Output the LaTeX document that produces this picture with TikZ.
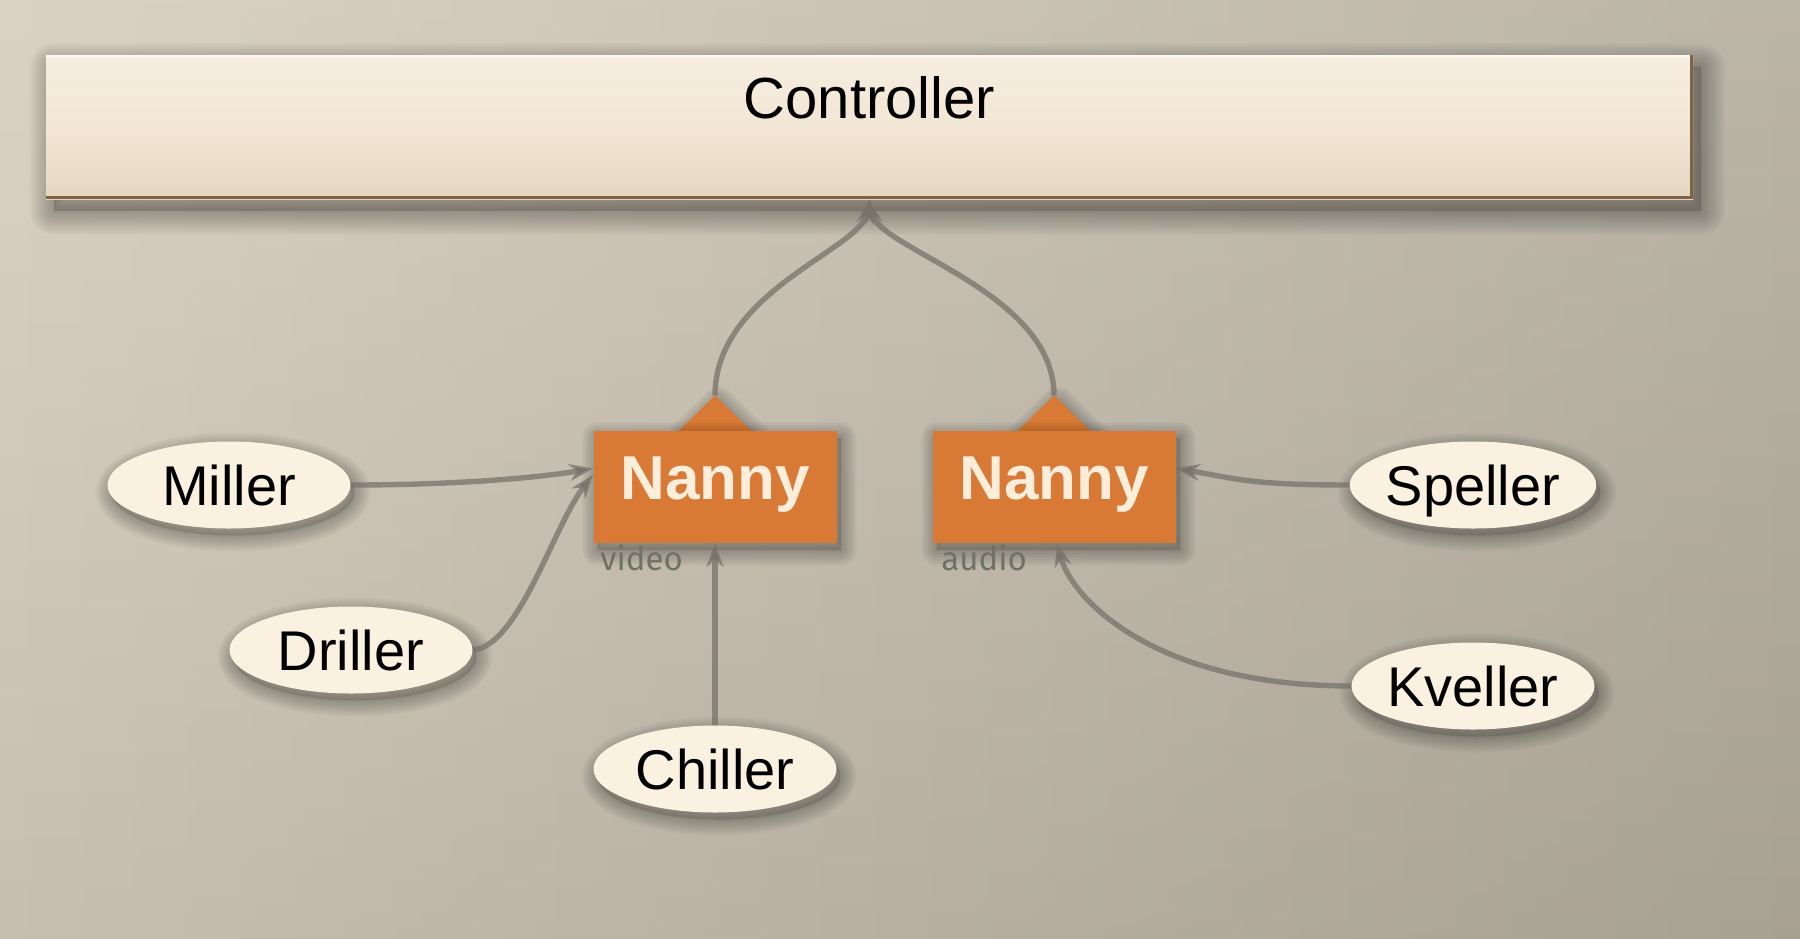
\documentclass[tikz,border=0pt]{standalone}
\usepackage{fontspec}
\setmainfont{Liberation Sans}
\newfontfamily\notefont{Fira Sans}
\usetikzlibrary{shapes.geometric,arrows.meta}
\definecolor{bgL}{HTML}{D8CFBF}
\definecolor{bgR}{HTML}{B6AFA1}
\definecolor{boxtop}{HTML}{F7EEE1}
\definecolor{boxmid}{HTML}{F2E6D4}
\definecolor{boxbot}{HTML}{E4D6C1}
\definecolor{boxedge}{HTML}{7F6343}
\definecolor{cream}{HTML}{FBF1E1}
\definecolor{nannyorange}{HTML}{D87A36}
\definecolor{nannytext}{HTML}{FCEEDB}
\definecolor{wire}{HTML}{77726A}
\definecolor{notegray}{HTML}{6E7264}
\tikzset{
  shfill/.style={preaction={fill=black, fill opacity=#1, transform canvas={xshift=2pt,yshift=-3.5pt}}},
  shstep/.style={preaction={draw=black, line width=#1, line join=round, draw opacity=0.022, transform canvas={xshift=2pt,yshift=-3.5pt}}},
  bigfill/.style={preaction={fill=black, fill opacity=#1, transform canvas={xshift=4pt,yshift=-6pt}}},
  bigstep/.style={preaction={draw=black, line width=#1, line join=round, draw opacity=0.022, transform canvas={xshift=4pt,yshift=-6pt}}},
  softshadow/.style={shfill=0.12, shstep=16pt, shstep=14.5pt, shstep=13pt, shstep=11.5pt, shstep=10pt,
    shstep=8.5pt, shstep=7pt, shstep=5.5pt, shstep=4pt, shstep=2.5pt, shstep=1pt},
  bigshadow/.style={bigfill=0.15, bigstep=24pt, bigstep=22pt, bigstep=20pt, bigstep=18pt, bigstep=16pt,
    bigstep=14pt, bigstep=12pt, bigstep=10pt, bigstep=8pt, bigstep=6pt, bigstep=4pt, bigstep=2pt},
  ctrlbox/.style={rectangle, inner sep=0pt, minimum width=823.5pt, minimum height=72pt,
    bigshadow, top color=boxtop, bottom color=boxbot, middle color=boxmid,
    text height=31.5pt, text depth=40.5pt, font=\fontsize{29}{31}\selectfont},
  actor/.style={ellipse, softshadow, fill=cream, inner sep=0pt, minimum width=121.5pt, minimum height=43.5pt,
    text height=20pt, text depth=0pt, font=\fontsize{28}{30}\selectfont},
  nannybox/.style={rectangle, softshadow, fill=nannyorange, inner sep=0pt, minimum width=121.5pt, minimum height=56pt,
    text=nannytext, text height=23pt, text depth=10pt, font=\bfseries\fontsize{31}{33}\selectfont},
  tabshape/.style={softshadow, fill=nannyorange},
  notelabel/.style={anchor=base west, inner sep=0pt, text=notegray, font=\notefont\fontsize{16.5}{18}\selectfont},
  wirestyle/.style={line width=2.7pt, draw=wire, draw opacity=0.75, -{Stealth[length=12pt,width=8.5pt]}}
}
\begin{document}
\begin{tikzpicture}[x=0.5pt,y=-0.5pt]
\useasboundingbox (0pt,0pt) rectangle (900pt,-469pt);
\shade[left color=bgL, right color=bgR] (0pt,0pt) rectangle (900pt,-469pt);
\shade[top color=white, bottom color=black, opacity=0.08] (0pt,0pt) rectangle (900pt,-469pt);

% controller
\node[ctrlbox] (ctrl) at (869.5,127) {Controller};
\draw[boxedge, line width=1.8pt] ([yshift=0.9pt]ctrl.south west) -- ([xshift=-0.9pt,yshift=0.9pt]ctrl.south east) -- ([xshift=-0.9pt]ctrl.north east);
\draw[white, opacity=0.6, line width=1pt] ([yshift=-0.5pt]ctrl.north west) -- ([yshift=-0.5pt,xshift=-1.8pt]ctrl.north east);

% nanny tabs, then boxes
\coordinate (posL) at (715,486.5);
\coordinate (posR) at (1054,486.5);
\coordinate (tabL) at (715,395.5);
\coordinate (tabR) at (1054,395.5);
\path[tabshape] ([xshift=-18pt,yshift=-9pt]tabL |- 0,430.5) -- ([xshift=-18pt]tabL |- 0,430.5) -- (tabL) -- ([xshift=18pt]tabL |- 0,430.5) -- ([xshift=18pt,yshift=-9pt]tabL |- 0,430.5) -- cycle;
\path[tabshape] ([xshift=-18pt,yshift=-9pt]tabR |- 0,430.5) -- ([xshift=-18pt]tabR |- 0,430.5) -- (tabR) -- ([xshift=18pt]tabR |- 0,430.5) -- ([xshift=18pt,yshift=-9pt]tabR |- 0,430.5) -- cycle;
\node[nannybox] (nannyL) at (posL) {Nanny};
\node[nannybox] (nannyR) at (posR) {Nanny};
\node[notelabel] (vidlbl) at (600,570) {video};
\node[notelabel] (audlbl) at (941,570) {audio};

% actors
\node[actor] (miller) at (229,485) {Miller};
\node[actor] (driller) at (351,650) {Driller};
\node[actor] (chiller) at (715,769) {Chiller};
\node[actor] (speller) at (1473,485) {Speller};
\node[actor] (kveller) at (1473,686) {Kveller};

% connectors
\draw[wirestyle] (miller.east) .. controls +(50pt,0pt) and +(-30pt,-5pt) .. ([yshift=9pt]nannyL.west);
\draw[wirestyle] (driller.east) .. controls +(23pt,2pt) and +(-20pt,-26pt) .. ([yshift=6pt]nannyL.west);
\draw[wirestyle] (chiller.north) -- (nannyL.south);
\draw[wirestyle] (speller.west) .. controls +(-50pt,0pt) and +(30pt,-5pt) .. ([yshift=9pt]nannyR.east);
\draw[wirestyle] (kveller.west) .. controls +(-100pt,0pt) and +(7pt,-27pt) .. ([xshift=1.5pt]nannyR.south);
\draw[wirestyle] (tabL) .. controls +(0pt,52pt) and +(-4.5pt,-25pt) .. (ctrl.south);
\draw[wirestyle] (tabR) .. controls +(0pt,52pt) and +(4.5pt,-25pt) .. (ctrl.south);
\end{tikzpicture}
\end{document}
